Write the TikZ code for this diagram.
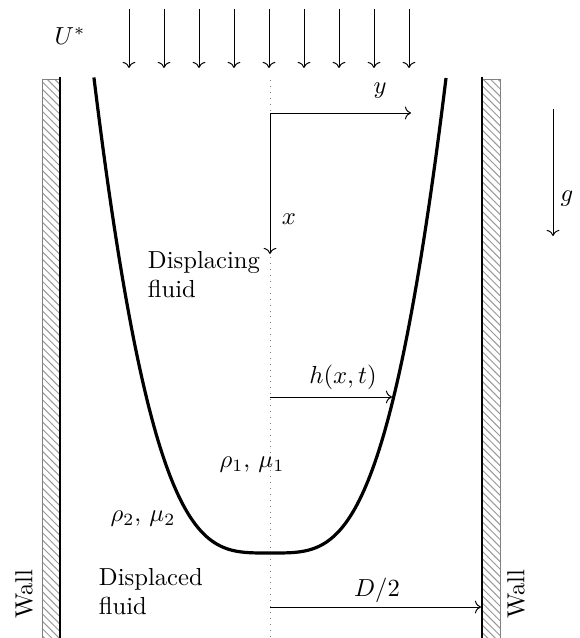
\documentclass[tikz,border=0pt]{standalone}
\usepackage{amsmath}
\usepackage{tikz}
\usetikzlibrary{arrows.meta, positioning, patterns}
\usepackage{xcolor}

\begin{document}
\begin{tikzpicture}[
    x=0.406pt, y=-0.406pt,
    wall/.style={draw=gray, pattern=north west lines, pattern color=gray!80},
    wallface/.style={line width=0.8pt},
    interface/.style={line width=1.3pt},
    arrow/.style={->, line width=0.4pt},
    label/.style={inner sep=1pt, font=\normalsize}
]
    \useasboundingbox (0,0) rectangle (580,638);

    % imposed flow
    \node[label] (Ustar) at (70,36) {$U^*$};
    \foreach \i in {0,...,8}
        \draw[arrow] (129+35*\i,9) -- (129+35*\i,68);

    % walls
    \draw[wall] (42,80) rectangle (60,640);
    \draw[wall] (482,80) rectangle (500,640);
    \draw[wallface] (60,77) -- (60,640);
    \draw[wallface] (482,77) -- (482,640);
    \node[label, rotate=90] (wallL) at (24,594) {Wall};
    \node[label, rotate=90] (wallR) at (516,594) {Wall};

    % centre line
    \draw[gray, dotted] (270,80) -- (270,640);

    % interface
    \draw[interface] plot[domain=-5.82:5.82, samples=160, variable=\u]
        ({270+28.36*\u+0.0232*\u*abs(\u)^2.5}, {553-abs(\u)^3.5});

    % axes
    \coordinate (O) at (270,113);
    \coordinate (yend) at (411,113);
    \coordinate (xend) at (270,254);
    \draw[arrow] (O) -- (yend);
    \draw[arrow] (O) -- (xend);
    \node[label] (ylab) at (380,91) {$y$};
    \node[label] (xlab) at (289,219) {$x$};

    % gravity
    \coordinate (gtop) at (553,109);
    \coordinate (gbot) at (553,236);
    \draw[arrow] (gtop) -- (gbot);
    \node[label] (glab) at (567,199) {$g$};

    % film thickness
    \coordinate (h0) at (270,397);
    \coordinate (h1) at (392,397);
    \draw[arrow] (h0) -- (h1);
    \node[label] (hlab) at (343,377) {$h(x,t)$};

    % half width
    \coordinate (d0) at (270,607);
    \coordinate (d1) at (481,607);
    \draw[arrow] (d0) -- (d1);
    \node[label] (dlab) at (377,590) {$D/2$};

    % fluids
    \node[label, align=left, anchor=north west] (displacing) at (145,248) {Displacing\\fluid};
    \node[label] (rho1) at (252,465) {$\rho_1$, $\mu_1$};
    \node[label] (rho2) at (143,519) {$\rho_2$, $\mu_2$};
    \node[label, align=left, anchor=north west] (displaced) at (96,565) {Displaced\\fluid};
\end{tikzpicture}
\end{document}
